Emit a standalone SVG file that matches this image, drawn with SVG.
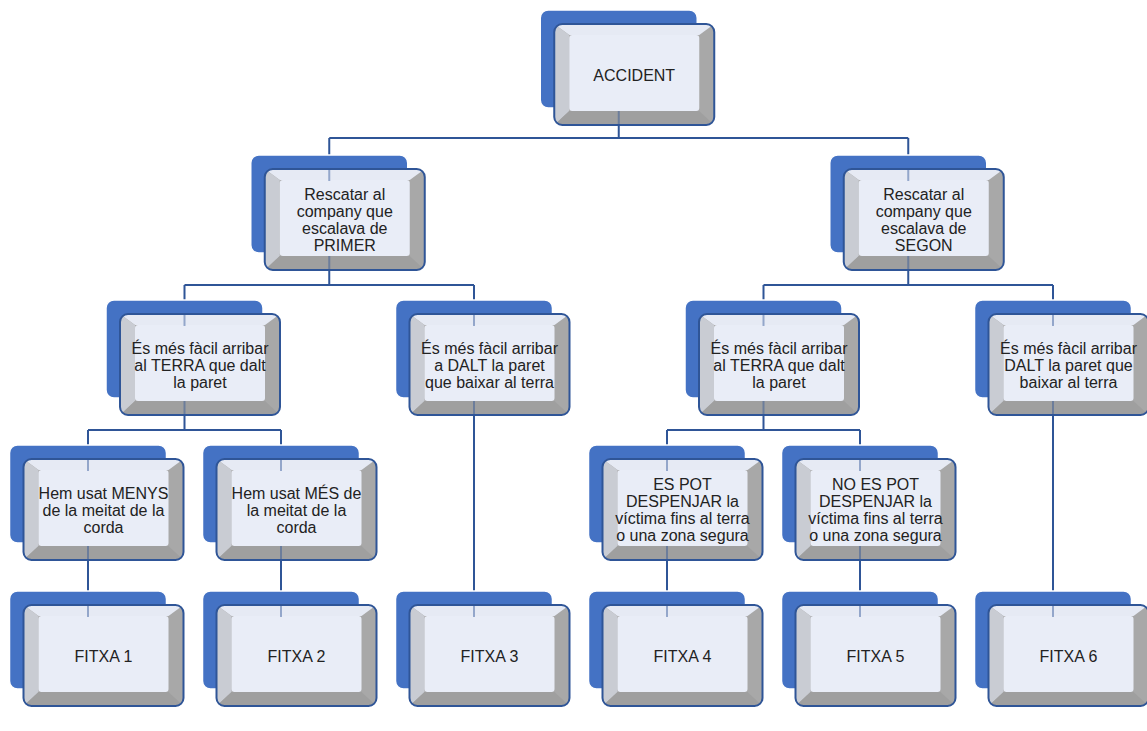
<svg xmlns="http://www.w3.org/2000/svg" xmlns:xlink="http://www.w3.org/1999/xlink" width="1147" height="731" viewBox="0 0 1147 731">
<style>
.t{font-family:"Liberation Sans",Arial,sans-serif;font-size:16px;fill:#222;text-anchor:middle}
.c{fill:none;stroke:#2F5597;stroke-width:2}
.f{fill:none;stroke:#2F5597;stroke-width:2;opacity:0.45}
</style>
<defs>
<clipPath id="fc"><rect x="14" y="14" width="160" height="101" rx="8"/></clipPath>
<g id="node">
<rect x="0" y="0" width="157" height="98" rx="8" fill="#4472C4" stroke="#ffffff" stroke-width="1.5"/>
<g clip-path="url(#fc)">
<rect x="14" y="14" width="160" height="101" fill="#A8A8A8"/>
<polygon points="14,14 174,14 159,25 29,25" fill="#E6EAF4"/>
<polygon points="14,14 29,25 29,101 14,115" fill="#C9CCD3"/>
<polygon points="14,115 29,101 159,101 174,115" fill="#9F9F9F"/>
<rect x="29" y="25" width="130" height="76" rx="3" fill="#E9EDF7"/>
</g>
<rect x="14" y="14" width="160" height="101" rx="8" fill="none" stroke="#2F5597" stroke-width="2"/>
</g>
</defs>
<rect width="1147" height="731" fill="#ffffff"/>
<g id="connectors">
<path class="c" d="M618.75 60 V138 M329.25 138 H908.25 M329.25 138 V170 M908.25 138 V170"/>
<path class="c" d="M329.25 205 V285 M184.5 285 H474 M184.5 285 V315 M474 285 V315"/>
<path class="c" d="M908.25 205 V285 M763.5 285 H1053 M763.5 285 V315 M1053 285 V315"/>
<path class="c" d="M184.5 350 V430 M88 430 H281 M88 430 V460 M281 430 V460"/>
<path class="c" d="M763.5 350 V430 M667 430 H860 M667 430 V460 M860 430 V460"/>
<path class="c" d="M474 350 V606 M1053 350 V606"/>
<path class="c" d="M88 495 V606 M281 495 V606 M667 495 V606 M860 495 V606"/>
</g>
<g id="n0"><use xlink:href="#node" x="540.25" y="10"/><text class="t" x="634.25" y="80.5">ACCIDENT</text></g>
<g id="n1a"><use xlink:href="#node" x="250.75" y="155"/><text class="t" x="344.75" y="200">Rescatar al<tspan x="344.75" dy="17">company que</tspan><tspan x="344.75" dy="17">escalava de</tspan><tspan x="344.75" dy="17">PRIMER</tspan></text></g>
<g id="n1b"><use xlink:href="#node" x="829.75" y="155"/><text class="t" x="923.75" y="200">Rescatar al<tspan x="923.75" dy="17">company que</tspan><tspan x="923.75" dy="17">escalava de</tspan><tspan x="923.75" dy="17">SEGON</tspan></text></g>
<g id="n2a"><use xlink:href="#node" x="106" y="300"/><text class="t" x="200" y="353.5">És més fàcil arribar<tspan x="200" dy="17">al TERRA que dalt</tspan><tspan x="200" dy="17">la paret</tspan></text></g>
<g id="n2b"><use xlink:href="#node" x="395.5" y="300"/><text class="t" x="489.5" y="353.5">És més fàcil arribar<tspan x="489.5" dy="17">a DALT la paret</tspan><tspan x="489.5" dy="17">que baixar al terra</tspan></text></g>
<g id="n2c"><use xlink:href="#node" x="685" y="300"/><text class="t" x="779" y="353.5">És més fàcil arribar<tspan x="779" dy="17">al TERRA que dalt</tspan><tspan x="779" dy="17">la paret</tspan></text></g>
<g id="n2d"><use xlink:href="#node" x="974.5" y="300"/><text class="t" x="1068.5" y="353.5">És més fàcil arribar<tspan x="1068.5" dy="17">DALT la paret que</tspan><tspan x="1068.5" dy="17">baixar al terra</tspan></text></g>
<g id="n3a"><use xlink:href="#node" x="9.5" y="445"/><text class="t" x="103.5" y="498.5">Hem usat MENYS<tspan x="103.5" dy="17">de la meitat de la</tspan><tspan x="103.5" dy="17">corda</tspan></text></g>
<g id="n3b"><use xlink:href="#node" x="202.5" y="445"/><text class="t" x="296.5" y="498.5">Hem usat MÉS de<tspan x="296.5" dy="17">la meitat de la</tspan><tspan x="296.5" dy="17">corda</tspan></text></g>
<g id="n3c"><use xlink:href="#node" x="588.5" y="445"/><text class="t" x="682.5" y="490">ES POT<tspan x="682.5" dy="17">DESPENJAR la</tspan><tspan x="682.5" dy="17">víctima fins al terra</tspan><tspan x="682.5" dy="17">o una zona segura</tspan></text></g>
<g id="n3d"><use xlink:href="#node" x="781.5" y="445"/><text class="t" x="875.5" y="490">NO ES POT<tspan x="875.5" dy="17">DESPENJAR la</tspan><tspan x="875.5" dy="17">víctima fins al terra</tspan><tspan x="875.5" dy="17">o una zona segura</tspan></text></g>
<g id="n4a"><use xlink:href="#node" x="9.5" y="591"/><text class="t" x="103.5" y="661.5">FITXA 1</text></g>
<g id="n4b"><use xlink:href="#node" x="202.5" y="591"/><text class="t" x="296.5" y="661.5">FITXA 2</text></g>
<g id="n4c"><use xlink:href="#node" x="395.5" y="591"/><text class="t" x="489.5" y="661.5">FITXA 3</text></g>
<g id="n4d"><use xlink:href="#node" x="588.5" y="591"/><text class="t" x="682.5" y="661.5">FITXA 4</text></g>
<g id="n4e"><use xlink:href="#node" x="781.5" y="591"/><text class="t" x="875.5" y="661.5">FITXA 5</text></g>
<g id="n4f"><use xlink:href="#node" x="974.5" y="591"/><text class="t" x="1068.5" y="661.5">FITXA 6</text></g>
<g id="connector-overlay">
<path class="f" d="M618.75 111 V125"/>
<path class="f" d="M329.25 169 V181 M329.25 256 V270 M908.25 169 V181 M908.25 256 V270"/>
<path class="f" d="M184.5 314 V326 M184.5 401 V415 M474 314 V326 M474 401 V415 M763.5 314 V326 M763.5 401 V415 M1053 314 V326 M1053 401 V415"/>
<path class="f" d="M88 459 V471 M88 546 V560 M281 459 V471 M281 546 V560 M667 459 V471 M667 546 V560 M860 459 V471 M860 546 V560"/>
<path class="f" d="M88 605 V617 M281 605 V617 M474 605 V617 M667 605 V617 M860 605 V617 M1053 605 V617"/>
</g>
</svg>
